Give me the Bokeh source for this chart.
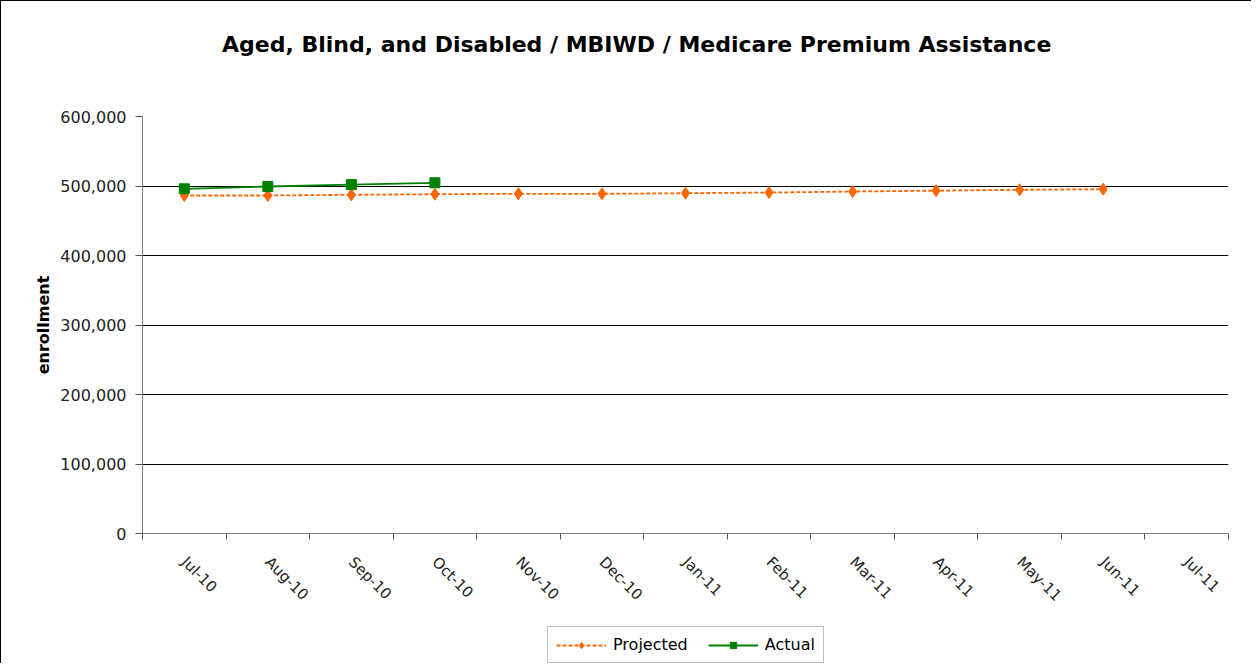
import numpy as np
from bokeh.plotting import figure
from bokeh.layouts import column
from bokeh.models import (FixedTicker, NumeralTickFormatter, Legend, LegendItem, Div)
from bokeh.embed import file_html
from bokeh.resources import INLINE

# ---- data ----
months = ["Jul-10", "Aug-10", "Sep-10", "Oct-10", "Nov-10", "Dec-10",
          "Jan-11", "Feb-11", "Mar-11", "Apr-11", "May-11", "Jun-11", "Jul-11"]
projected = [486300, 486300, 487300, 488200, 488800, 488800,
             489600, 490600, 492000, 493300, 494500, 495400]
actual = [496000, 499300, 502000, 504600]
y_ticks = [0, 100000, 200000, 300000, 400000, 500000, 600000]
series_names = ["Projected", "Actual"]

title_text = "Aged, Blind, and Disabled / MBIWD / Medicare Premium Assistance"
FONT = "DejaVu Sans"

n = len(months)
centers = [i + 0.5 for i in range(n)]
bounds = list(range(n + 1))
px = centers[:len(projected)]
ax = centers[:len(actual)]

orange = "#FF6600"
green = "#008000"

title_div = Div(
    text=('<div style="font-family:\'DejaVu Sans\';font-size:22px;font-weight:bold;'
          'color:#000;line-height:26px;padding-top:31px;padding-left:221px;'
          'white-space:nowrap;">' + title_text + '</div>'),
    width=1250, height=70, margin=0)

p = figure(width=1250, height=555, x_range=(0, n), y_range=(0, 600000),
           output_backend="svg", toolbar_location=None,
           min_border_left=141, min_border_right=23,
           min_border_top=45, min_border_bottom=93)

p.outline_line_color = None
p.xgrid.grid_line_color = None
p.ygrid.grid_line_color = "#000000"
p.ygrid.grid_line_width = 1
p.ygrid.ticker = FixedTicker(ticks=y_ticks)

# x axis
xa = p.xaxis[0]
xa.ticker = FixedTicker(ticks=centers, minor_ticks=bounds)
xa.major_label_overrides = {c: m for c, m in zip(centers, months)}
xa.major_tick_line_color = None
xa.minor_tick_in = 0
xa.minor_tick_out = 6
xa.minor_tick_line_color = "#555555"
xa.axis_line_color = "#808080"
xa.major_label_orientation = -np.pi / 4
xa.major_label_standoff = 20
xa.major_label_text_font = FONT
xa.major_label_text_font_size = "15px"
xa.major_label_text_color = "#222222"

# y axis
ya = p.yaxis[0]
ya.ticker = FixedTicker(ticks=y_ticks)
ya.formatter = NumeralTickFormatter(format="0,0")
ya.major_tick_in = 0
ya.major_tick_out = 7
ya.major_tick_line_color = "#555555"
ya.minor_tick_line_color = None
ya.axis_line_color = "#808080"
ya.major_label_text_font = FONT
ya.major_label_text_font_size = "16px"
ya.major_label_text_color = "#222222"
ya.major_label_standoff = 9
ya.axis_label = "enrollment"
ya.axis_label_text_font = FONT
ya.axis_label_text_font_size = "16px"
ya.axis_label_text_font_style = "bold"
ya.axis_label_text_color = "#000000"
ya.axis_label_standoff = 4


def draw(fig):
    pl = fig.line(px, projected, line_color=orange, line_width=1.8, line_dash="4 2")
    ps = fig.scatter(px, projected, marker="diamond", size=12,
                     fill_color=orange, line_color=orange)
    al = fig.line(ax, actual, line_color=green, line_width=1.8)
    as_ = fig.scatter(ax, actual, marker="square", size=10,
                      fill_color=green, line_color=green)
    return [pl, ps], [al, as_]


draw(p)

# legend strip (its own small figure, glyphs kept out of view)
lf = figure(width=1250, height=37, x_range=(-10, -9), y_range=(0, 600000),
            output_backend="svg", toolbar_location=None,
            min_border=0, min_border_left=0, min_border_right=0,
            min_border_top=0, min_border_bottom=0)
lf.axis.visible = False
lf.grid.visible = False
lf.outline_line_color = None
proj_r, act_r = draw(lf)
legend = Legend(items=[LegendItem(label=series_names[0], renderers=proj_r),
                       LegendItem(label=series_names[1], renderers=act_r)],
                orientation="horizontal", location=(405, 0),
                border_line_color="#808080", border_line_width=1,
                label_text_font=FONT, label_text_font_size="16px",
                label_text_color="#000000",
                glyph_width=50, glyph_height=16, spacing=20, label_standoff=7,
                padding=8, margin=0, background_fill_alpha=1)
lf.add_layout(legend, "center")

layout = column(title_div, p, lf, spacing=0,
                styles={"border-left": "1px solid black", "border-top": "1px solid black"})

open("out.html", "w").write(file_html(layout, INLINE))
